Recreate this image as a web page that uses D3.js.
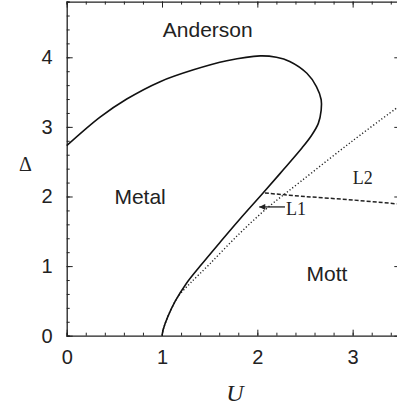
<!DOCTYPE html>
<html>
<head>
<meta charset="utf-8">
<script src="https://cdn.jsdelivr.net/npm/d3@7"></script>
<style>
  html, body { margin: 0; padding: 0; background: #fff; }
  svg { display: block; }
</style>
</head>
<body>
<div id="chart"></div>
<script>
// phase boundary (solid)
const boundary = [
  [0, 2.73], [0.35, 3.14], [0.63, 3.40], [0.98, 3.65], [1.33, 3.82], [1.68, 3.95],
  [2.03, 4.02], [2.2, 4.0], [2.34, 3.94], [2.52, 3.77], [2.62, 3.58], [2.67, 3.39],
  [2.67, 3.24], [2.64, 3.05], [2.57, 2.88], [2.47, 2.70], [2.27, 2.38], [2.06, 2.05],
  [1.82, 1.68], [1.62, 1.36], [1.40, 1.0], [1.25, 0.74], [1.14, 0.5], [1.06, 0.27],
  [1.015, 0.1], [1.0, 0]
];
// dotted line
const dottedLine = [
  [1.0, 0], [1.015, 0.1], [1.06, 0.27], [1.14, 0.5], [1.19, 0.6], [1.3, 0.76],
  [1.5, 1.03], [1.8, 1.45], [2.1, 1.83], [2.45, 2.21], [3.0, 2.8], [3.5, 3.31]
];
// dashed line
const dashedLine = [[2.08, 2.05], [2.5, 2.0], [3.0, 1.95], [3.5, 1.89]];

const xTicks = [0, 1, 2, 3];
const yTicks = [0, 1, 2, 3, 4];
const regionLabels = [
  { text: "Anderson", u: 1.48, d: 4.29 },
  { text: "Metal", u: 0.77, d: 1.89 },
  { text: "Mott", u: 2.73, d: 0.79 }
];

const width = 397, height = 407;
const x = d3.scaleLinear().domain([0, 3.5]).range([66.7, 400.3]);
const y = d3.scaleLinear().domain([0, 4.8]).range([335.7, 1.6]);

const svg = d3.select("#chart").append("svg")
    .attr("width", width)
    .attr("height", height)
    .style("font-family", "'Liberation Sans', Arial, sans-serif");

// axes with inward ticks on all four sides
const axisColor = "#222";
function styleAxis(g) {
  g.select(".domain").attr("stroke", axisColor).attr("stroke-width", 1.3);
  g.selectAll(".tick line").attr("stroke", axisColor).attr("stroke-width", 1);
  g.selectAll(".tick text").attr("fill", axisColor).style("font-size", "20px");
}
const xMinor = d3.range(0, 3.51, 0.2);
const yMinor = d3.range(0, 4.81, 0.2);

[
  [d3.axisBottom(x), `translate(0,${y(0)})`, true],
  [d3.axisTop(x), `translate(0,${y(4.8)})`, false]
].forEach(([ax, tr, labels]) => {
  svg.append("g").attr("transform", tr)
      .call(ax.tickValues(xMinor).tickSize(-3).tickFormat(""))
      .call(styleAxis);
  const g = svg.append("g").attr("transform", tr)
      .call(ax.tickValues(xTicks).tickSize(-6).tickSizeOuter(0).tickPadding(14)
        .tickFormat(labels ? d3.format("d") : ""))
      .call(styleAxis);
  g.select(".domain").remove();
});
[
  [d3.axisLeft(y), `translate(${x(0)},0)`, true],
  [d3.axisRight(y), `translate(${x(3.5)},0)`, false]
].forEach(([ax, tr, labels]) => {
  svg.append("g").attr("transform", tr)
      .call(ax.tickValues(yMinor).tickSize(-3).tickFormat(""))
      .call(styleAxis);
  const g = svg.append("g").attr("transform", tr)
      .call(ax.tickValues(yTicks).tickSize(-6).tickSizeOuter(0).tickPadding(14)
        .tickFormat(labels ? d3.format("d") : ""))
      .call(styleAxis);
  g.select(".domain").remove();
});

// axis titles
svg.append("text")
    .attr("x", 235).attr("y", 401)
    .attr("text-anchor", "middle")
    .attr("fill", axisColor)
    .style("font-family", "'Liberation Serif', 'Times New Roman', serif")
    .style("font-style", "italic")
    .style("font-size", "24px")
    .text("U");
svg.append("text")
    .attr("x", 25.5).attr("y", 171)
    .attr("text-anchor", "middle")
    .attr("fill", axisColor)
    .style("font-family", "'Liberation Serif', 'Times New Roman', serif")
    .style("font-size", "20px")
    .text("Δ");

const line = d3.line()
    .x(d => x(d[0]))
    .y(d => y(d[1]))
    .curve(d3.curveCatmullRom.alpha(0.5));

const plot = svg.append("g");

plot.append("path")
    .datum(dottedLine)
    .attr("d", line)
    .attr("fill", "none")
    .attr("stroke", "#222")
    .attr("stroke-width", 1.4)
    .attr("stroke-dasharray", "1.2,2.2");

plot.append("path")
    .datum(dashedLine)
    .attr("d", line)
    .attr("fill", "none")
    .attr("stroke", "#222")
    .attr("stroke-width", 1.5)
    .attr("stroke-dasharray", "4,2");

plot.append("path")
    .datum(boundary)
    .attr("d", line)
    .attr("fill", "none")
    .attr("stroke", "#111")
    .attr("stroke-width", 1.6);

// region labels
regionLabels.forEach(d => {
  svg.append("text")
      .attr("x", x(d.u))
      .attr("y", y(d.d))
      .attr("text-anchor", "middle")
      .attr("fill", "#222")
      .style("font-size", "21px")
      .text(d.text);
});

// L1 / L2 labels
svg.append("text")
    .attr("x", x(3.0)).attr("y", y(2.18))
    .attr("fill", "#222")
    .style("font-family", "'Liberation Serif', 'Times New Roman', serif")
    .style("font-size", "18px")
    .text("L2");
svg.append("text")
    .attr("x", x(2.3)).attr("y", y(1.74))
    .attr("fill", "#222")
    .style("font-family", "'Liberation Serif', 'Times New Roman', serif")
    .style("font-size", "18px")
    .text("L1");

// arrow pointing to L1 line
svg.append("defs").append("marker")
    .attr("id", "arrow")
    .attr("viewBox", "0 0 10 10")
    .attr("refX", 10).attr("refY", 5)
    .attr("markerWidth", 8).attr("markerHeight", 6)
    .attr("markerUnits", "userSpaceOnUse")
    .attr("orient", "auto")
    .append("path")
    .attr("d", "M0,0L10,5L0,10z")
    .attr("fill", "#222");
svg.append("line")
    .attr("x1", x(2.29)).attr("y1", y(1.85))
    .attr("x2", x(2.02)).attr("y2", y(1.85))
    .attr("stroke", "#222")
    .attr("stroke-width", 1.3)
    .attr("marker-end", "url(#arrow)");
</script>
</body>
</html>
